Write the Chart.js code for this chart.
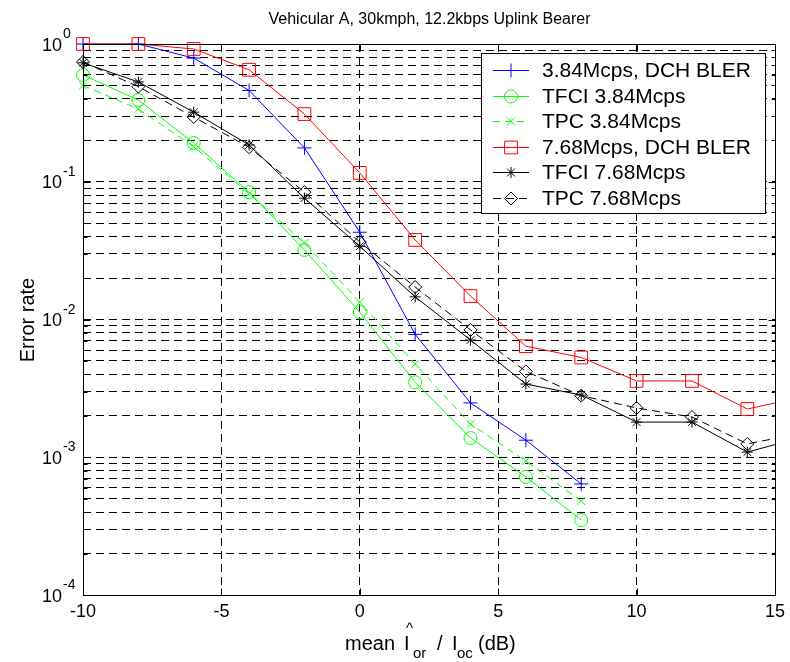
<!DOCTYPE html>
<html>
<head>
<meta charset="utf-8">
<script src="https://cdn.jsdelivr.net/npm/chart.js@4.4.0/dist/chart.umd.min.js"></script>
<style>
  html, body { margin: 0; padding: 0; background: #fff; }
  #wrap { width: 790px; height: 662px; }
</style>
</head>
<body>
<div id="wrap"><canvas id="bler"></canvas></div>
<script>
// Ior/Ioc in dB for both chip rates
var snr384 = [-10, -8, -6, -4, -2, 0, 2, 4, 6, 8];
var snr768 = [-10, -8, -6, -4, -2, 0, 2, 4, 6, 8, 10, 12, 14, 16];

// error rates
var dch384  = [1.0, 1.0, 0.79, 0.46, 0.176, 0.043, 0.0078, 0.00248, 0.00133, 0.00064];
var tfci384 = [0.596, 0.392, 0.191, 0.084, 0.032, 0.0113, 0.0035, 0.00138, 0.00072, 0.00035];
var tpc384  = [0.50, 0.337, 0.18, 0.082, 0.036, 0.0134, 0.00475, 0.00174, 0.00094, 0.00048];
var dch768  = [1.0, 1.0, 0.92, 0.65, 0.31, 0.116, 0.0378, 0.0148, 0.0064, 0.0053, 0.00358, 0.00358, 0.00224, 0.00274];
var tfci768 = [0.73, 0.53, 0.32, 0.185, 0.076, 0.034, 0.0146, 0.0071, 0.0034, 0.00283, 0.0018, 0.0018, 0.00109, 0.0014];
var tpc768  = [0.74, 0.49, 0.295, 0.178, 0.084, 0.0365, 0.0172, 0.0084, 0.0042, 0.0028, 0.00228, 0.00196, 0.00125, 0.0015];

var xTicks = [-10, -5, 0, 5, 10, 15];
var yDecades = [-4, -3, -2, -1, 0];

var FONT = '"Liberation Sans", Arial, Helvetica, sans-serif';

function pts(xs, ys) {
  return xs.map(function (x, i) { return { x: x, y: ys[i] }; });
}

function series(label, xs, ys, color, style, radius, dash, order) {
  return {
    label: label,
    data: pts(xs, ys),
    order: order,
    borderColor: color,
    backgroundColor: 'rgba(0,0,0,0)',
    borderWidth: 1,
    borderDash: dash,
    pointStyle: style,
    pointRadius: radius,
    pointHoverRadius: radius,
    pointBorderColor: color,
    pointBackgroundColor: 'rgba(0,0,0,0)',
    pointBorderWidth: 1,
    tension: 0,
    fill: false,
    // markers at -10 hang over the left axis, the curves stop at the right one
    clip: { left: 14, top: 14, right: 0, bottom: 14 }
  };
}

// later curves are painted over earlier ones
var datasets = [
  series('3.84Mcps, DCH BLER', snr384, dch384, '#0000ff', 'cross', 7, [], 6),
  series('TFCI 3.84Mcps', snr384, tfci384, '#00ff00', 'circle', 6.5, [], 5),
  series('TPC 3.84Mcps', snr384, tpc384, '#00ff00', 'crossRot', 5.5, [7, 5], 4),
  series('7.68Mcps, DCH BLER', snr768, dch768, '#ff0000', 'rect', 9, [], 3),
  series('TFCI 7.68Mcps', snr768, tfci768, '#000000', 'star', 5.5, [], 2),
  series('TPC 7.68Mcps', snr768, tpc768, '#000000', 'rectRot', 6.5, [8, 5], 1)
];

function superTen(ctx, exp, x, y) {
  ctx.font = '18px ' + FONT;
  ctx.textAlign = 'right';
  ctx.textBaseline = 'alphabetic';
  ctx.fillText('10', x, y + 6.5);
  ctx.font = '14px ' + FONT;
  ctx.textAlign = 'left';
  ctx.fillText(String(exp), x + 1, y - 6);
}

var decor = {
  id: 'decor',
  afterDraw: function (chart) {
    var ctx = chart.ctx, a = chart.chartArea;
    var sx = chart.scales.x, sy = chart.scales.y;
    var L = Math.round(a.left) + 0.5, R = Math.round(a.right) + 0.5;
    var T = Math.round(a.top) + 0.5, B = Math.round(a.bottom) + 0.5;
    ctx.save();

    // axes box with inward ticks
    ctx.strokeStyle = '#000';
    ctx.lineWidth = 1;
    ctx.setLineDash([]);
    ctx.strokeRect(L, T, R - L, B - T);
    ctx.beginPath();
    xTicks.forEach(function (v) {
      var px = Math.round(sx.getPixelForValue(v)) + 0.5;
      ctx.moveTo(px, B); ctx.lineTo(px, B - 7);
      ctx.moveTo(px, T); ctx.lineTo(px, T + 7);
    });
    sy.ticks.forEach(function (t) {
      var py = Math.round(sy.getPixelForValue(t.value)) + 0.5;
      var len = t.major ? 7 : 4;
      ctx.moveTo(L, py); ctx.lineTo(L + len, py);
      ctx.moveTo(R, py); ctx.lineTo(R - len, py);
    });
    ctx.stroke();

    // tick labels
    ctx.fillStyle = '#000';
    ctx.font = '18px ' + FONT;
    ctx.textAlign = 'center';
    ctx.textBaseline = 'alphabetic';
    xTicks.forEach(function (v) {
      ctx.fillText(String(v), sx.getPixelForValue(v), 617);
    });
    yDecades.forEach(function (d) {
      superTen(ctx, d, 62, sy.getPixelForValue(Math.pow(10, d)));
    });

    // title
    ctx.font = '16px ' + FONT;
    ctx.textAlign = 'center';
    ctx.fillText('Vehicular A, 30kmph, 12.2kbps Uplink Bearer', (L + R) / 2, 24);

    // y label
    ctx.save();
    ctx.translate(34, (T + B) / 2);
    ctx.rotate(-Math.PI / 2);
    ctx.font = '20px ' + FONT;
    ctx.textAlign = 'center';
    ctx.fillText('Error rate', 0, 0);
    ctx.restore();

    // x label: mean I^or / Ioc (dB)
    ctx.textAlign = 'left';
    ctx.font = '20px ' + FONT;
    ctx.fillText('mean', 345, 650);
    ctx.fillText('I', 404, 650);
    ctx.fillText('/', 437, 650);
    ctx.fillText('I', 452, 650);
    ctx.fillText('(dB)', 478, 650);
    ctx.font = '15px ' + FONT;
    ctx.fillText('^', 406, 633);
    ctx.fillText('or', 413, 658);
    ctx.fillText('oc', 457, 658);

    // legend
    var bx = 481.5, by = 53.5, bw = 284, bh = 160;
    ctx.fillStyle = '#fff';
    ctx.fillRect(bx, by, bw, bh);
    ctx.strokeStyle = '#000';
    ctx.strokeRect(bx, by, bw, bh);
    chart.data.datasets.forEach(function (ds, i) {
      var y = Math.round(70 + i * 25.6) + 0.5;
      ctx.strokeStyle = ds.borderColor;
      ctx.lineWidth = 1;
      ctx.setLineDash(ds.borderDash);
      ctx.beginPath();
      ctx.moveTo(493, y);
      ctx.lineTo(529, y);
      ctx.stroke();
      ctx.setLineDash([]);
      ctx.fillStyle = 'rgba(0,0,0,0)';
      Chart.helpers.drawPoint(ctx, {
        pointStyle: ds.pointStyle, rotation: 0,
        radius: ds.pointRadius, borderWidth: 1
      }, 511, y);
      ctx.fillStyle = '#000';
      ctx.font = '21px ' + FONT;
      ctx.textAlign = 'left';
      ctx.textBaseline = 'middle';
      ctx.fillText(ds.label, 542, y + 1);
    });
    ctx.restore();
  }
};

var gridStyle = {
  color: '#000',
  lineWidth: 1,
  drawTicks: false
};

var ctx = document.getElementById('bler').getContext('2d');
var blerChart = new Chart(ctx, {
  type: 'line',
  data: { datasets: datasets },
  options: {
    responsive: true,
    maintainAspectRatio: false,
    devicePixelRatio: 1,
    animation: false,
    layout: { padding: { top: 44, right: 15, left: 0, bottom: 0 } },
    plugins: {
      legend: { display: false },
      tooltip: { enabled: false },
      title: { display: false }
    },
    scales: {
      x: {
        type: 'linear',
        min: -10,
        max: 15,
        afterBuildTicks: function (scale) {
          scale.ticks = xTicks.map(function (v) { return { value: v }; });
        },
        afterFit: function (scale) { scale.height = 67; },
        grid: gridStyle,
        border: { display: false, dash: [8, 5] },
        ticks: { display: false }
      },
      y: {
        type: 'logarithmic',
        min: 1e-4,
        max: 1,
        afterBuildTicks: function (scale) {
          var ticks = [];
          yDecades.forEach(function (d) {
            for (var m = 1; m <= 9; m++) {
              if (d === 0 && m > 1) break;
              ticks.push({ value: m * Math.pow(10, d), major: m === 1 });
            }
          });
          scale.ticks = ticks;
        },
        afterFit: function (scale) { scale.width = 83; },
        grid: gridStyle,
        border: { display: false, dash: [8, 5] },
        ticks: { display: false }
      }
    }
  },
  plugins: [decor]
});
</script>
</body>
</html>
